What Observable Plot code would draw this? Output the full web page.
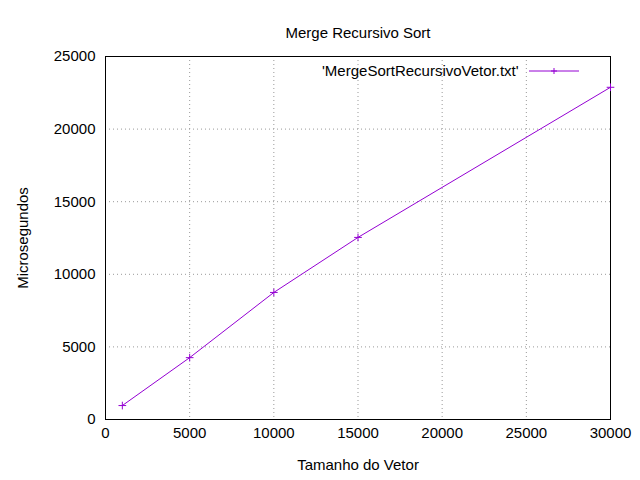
<!DOCTYPE html>
<html><head><meta charset="utf-8">
<script src="https://cdn.jsdelivr.net/npm/d3@7"></script>
<script src="https://cdn.jsdelivr.net/npm/@observablehq/plot@0.6"></script>
<style>
body{margin:0;background:#fff;font-family:"Liberation Sans",Arial,sans-serif}
#wrap{position:relative;width:640px;height:480px}
#legend{position:absolute;top:62px;left:322px;font-size:15px;display:flex;align-items:center;gap:10px}
</style></head>
<body><div id="wrap"><div id="chart"></div>
<div id="legend"><span>'MergeSortRecursivoVetor.txt'</span>
<svg width="50" height="12"><line x1="0" y1="6" x2="50" y2="6" stroke="#9400d3"/><line x1="22" y1="6" x2="28" y2="6" stroke="#9400d3"/><line x1="25" y1="3" x2="25" y2="9" stroke="#9400d3"/></svg></div></div>
<script>
const tamanhos = [1000, 5000, 10000, 15000, 30000];
const micros = [960, 4260, 8750, 12540, 22880];
const data = tamanhos.map((t, i) => ({t, m: micros[i]}));

const chart = Plot.plot({
  width: 640, height: 480,
  marginLeft: 105, marginRight: 30, marginTop: 56, marginBottom: 61,
  style: {fontFamily: "Liberation Sans, Arial, sans-serif", fontSize: "15px", color: "#000"},
  x: {domain: [0, 30000], ticks: d3.range(0, 30001, 5000), tickFormat: d => String(d), tickSize: 0, tickPadding: 8,
      label: "Tamanho do Vetor", labelAnchor: "center", labelOffset: 50, labelArrow: "none"},
  y: {domain: [0, 25000], ticks: d3.range(0, 25001, 5000), tickFormat: d => String(d), tickSize: 0, tickPadding: 10,
      label: "Microsegundos", labelAnchor: "center", labelOffset: 88, labelArrow: "none"},
  marks: [
    Plot.gridX(d3.range(5000, 30000, 5000), {stroke: "#999", strokeOpacity: 1, strokeDasharray: "1,3"}),
    Plot.gridY(d3.range(5000, 25001, 5000), {stroke: "#999", strokeOpacity: 1, strokeDasharray: "1,3"}),
    Plot.frame({stroke: "#000"}),
    Plot.line(data, {x: "t", y: "m", stroke: "#9400d3", strokeWidth: 1}),
    Plot.dot(data, {x: "t", y: "m", symbol: "plus", r: 2.6, stroke: "#9400d3", strokeWidth: 1}),
    Plot.text(["Merge Recursivo Sort"], {frameAnchor: "top", dy: -29, fontSize: 15})
  ]
});
d3.select("#chart").append(() => chart);
</script></body></html>
